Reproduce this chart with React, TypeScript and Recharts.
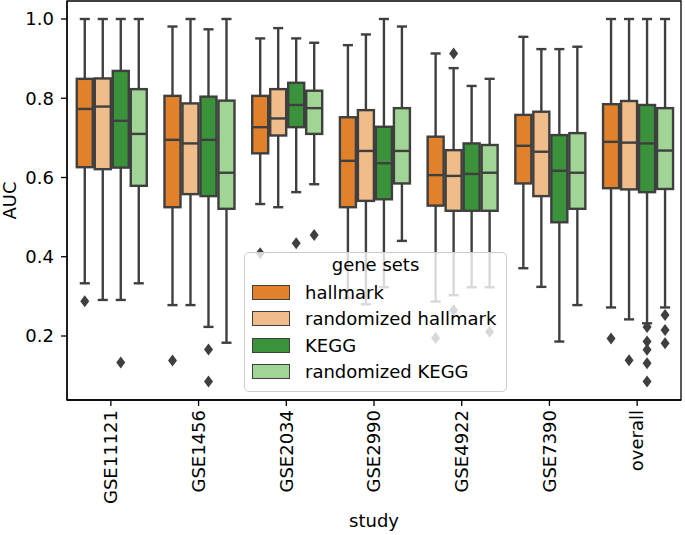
import React from 'react'
import {
  ComposedChart,
  Bar,
  XAxis,
  YAxis,
  Legend,
  ReferenceArea,
} from 'recharts'

// study names on the x axis
const studies = ['GSE11121', 'GSE1456', 'GSE2034', 'GSE2990', 'GSE4922', 'GSE7390', 'overall']

// box stats per study: [whisker low, q1, median, q3, whisker high]
const hallmarkBox = [
  [0.333, 0.626, 0.773, 0.849, 1.0],
  [0.278, 0.525, 0.695, 0.806, 0.981],
  [0.533, 0.661, 0.727, 0.806, 0.951],
  [0.295, 0.525, 0.642, 0.752, 0.934],
  [0.287, 0.529, 0.606, 0.703, 0.913],
  [0.371, 0.585, 0.68, 0.758, 0.955],
  [0.272, 0.573, 0.69, 0.785, 1.0],
]
const randHallmarkBox = [
  [0.291, 0.621, 0.779, 0.85, 1.0],
  [0.278, 0.558, 0.686, 0.787, 1.0],
  [0.525, 0.706, 0.749, 0.823, 0.977],
  [0.28, 0.541, 0.667, 0.77, 0.961],
  [0.303, 0.516, 0.604, 0.669, 0.876],
  [0.324, 0.553, 0.665, 0.766, 0.924],
  [0.242, 0.57, 0.688, 0.793, 1.0],
]
const keggBox = [
  [0.291, 0.625, 0.743, 0.869, 1.0],
  [0.223, 0.553, 0.695, 0.804, 0.974],
  [0.563, 0.727, 0.783, 0.839, 0.951],
  [0.323, 0.545, 0.636, 0.728, 1.0],
  [0.323, 0.516, 0.609, 0.686, 0.831],
  [0.186, 0.487, 0.617, 0.707, 0.924],
  [0.232, 0.563, 0.686, 0.783, 1.0],
]
const randKeggBox = [
  [0.333, 0.579, 0.71, 0.823, 1.0],
  [0.183, 0.521, 0.612, 0.794, 1.0],
  [0.583, 0.71, 0.775, 0.819, 0.94],
  [0.44, 0.585, 0.667, 0.775, 0.981],
  [0.323, 0.516, 0.612, 0.682, 0.849],
  [0.278, 0.521, 0.612, 0.712, 0.93],
  [0.272, 0.571, 0.668, 0.775, 1.0],
]

// outliers (fliers) per study
const hallmarkOut = [[0.288], [0.138], [0.409], [], [0.195], [], [0.194]]
const randHallmarkOut = [[], [], [], [], [0.913, 0.265], [], [0.139]]
const keggOut = [[0.133], [0.166, 0.085], [0.434], [], [], [], [0.223, 0.186, 0.165, 0.131, 0.085]]
const randKeggOut = [[], [], [0.455], [], [0.211], [], [0.253, 0.215, 0.182]]

const yTicks = [0.2, 0.4, 0.6, 0.8, 1.0]
const yDomain = [0.0385, 1.0454]

const series = [
  { key: 'hallmark', name: 'hallmark', color: '#E1812C', box: hallmarkBox, out: hallmarkOut },
  { key: 'randHallmark', name: 'randomized hallmark', color: '#F0BC89', box: randHallmarkBox, out: randHallmarkOut },
  { key: 'kegg', name: 'KEGG', color: '#3A923A', box: keggBox, out: keggOut },
  { key: 'randKegg', name: 'randomized KEGG', color: '#A0D595', box: randKeggBox, out: randKeggOut },
]

const data = studies.map((study, i) => {
  const row: any = { study }
  series.forEach(s => {
    row[s.key] = { stats: s.box[i], out: s.out[i] }
  })
  return row
})

const EDGE = '#3f3f3f'
const FONT = '"DejaVu Sans", sans-serif'
const FS = 18

// draws one box; bar gives pixel range of whisker low..high, rest is mapped linearly
const makeBoxShape = (key: string, color: string) => (props: any) => {
  const { x, y, width, height, payload } = props
  const entry = payload && payload[key]
  if (!entry) return null
  const [lo, q1, med, q3, hi] = entry.stats
  const top = Math.min(y, y + height)
  const h = Math.abs(height)
  const py = (v: number) => top + ((hi - v) / (hi - lo)) * h
  const cx = x + width / 2
  const bx = x + 1
  const bw = width - 2
  const cap = width * 0.28
  return (
    <g>
      <line x1={cx} x2={cx} y1={py(hi)} y2={py(q3)} stroke={EDGE} strokeWidth={2.4} />
      <line x1={cx} x2={cx} y1={py(q1)} y2={py(lo)} stroke={EDGE} strokeWidth={2.4} />
      <line x1={cx - cap} x2={cx + cap} y1={py(hi)} y2={py(hi)} stroke={EDGE} strokeWidth={2.4} />
      <line x1={cx - cap} x2={cx + cap} y1={py(lo)} y2={py(lo)} stroke={EDGE} strokeWidth={2.4} />
      <rect x={bx} y={py(q3)} width={bw} height={py(q1) - py(q3)} fill={color} stroke={EDGE} strokeWidth={2.4} />
      <line x1={bx} x2={bx + bw} y1={py(med)} y2={py(med)} stroke={EDGE} strokeWidth={2.4} />
      {entry.out.map((v: number, i: number) => {
        const oy = py(v)
        return (
          <polygon
            key={i}
            points={`${cx},${oy - 6} ${cx + 4.5},${oy} ${cx},${oy + 6} ${cx - 4.5},${oy}`}
            fill={EDGE}
          />
        )
      })}
    </g>
  )
}

const StudyTick = ({ x, y, payload }: any) => (
  <text
    x={x}
    y={y}
    dy="0.35em"
    transform={`rotate(-90, ${x}, ${y})`}
    textAnchor="end"
    fill="#000"
    fontSize={FS}
    fontFamily={FONT}
  >
    {payload.value}
  </text>
)

const AucLabel = ({ viewBox }: any) => {
  const cx = 9
  const cy = viewBox && viewBox.height ? viewBox.y + viewBox.height / 2 : 200
  return (
    <text
      x={cx}
      y={cy}
      transform={`rotate(-90, ${cx}, ${cy})`}
      textAnchor="middle"
      dominantBaseline="central"
      fill="#000"
      fontSize={FS}
      fontFamily={FONT}
    >
      AUC
    </text>
  )
}

const GeneSetLegend = () => (
  <div
    style={{
      boxSizing: 'border-box',
      width: 263,
      height: 140,
      background: 'rgba(255,255,255,0.8)',
      border: '1px solid #cccccc',
      borderRadius: 5,
      fontFamily: FONT,
      fontSize: FS,
      color: '#000',
    }}
  >
    <div style={{ textAlign: 'center', height: 26, lineHeight: '24px' }}>gene sets</div>
    {series.map(s => (
      <div key={s.key} style={{ display: 'flex', alignItems: 'center', height: 26.5 }}>
        <span
          style={{
            display: 'inline-block',
            boxSizing: 'border-box',
            width: 38,
            height: 15,
            marginLeft: 7,
            marginRight: 15,
            background: s.color,
            border: `1.5px solid ${EDGE}`,
          }}
        />
        <span>{s.name}</span>
      </div>
    ))}
  </div>
)

export default function App() {
  return (
    <div style={{ position: 'absolute', left: 0, top: 0, background: '#fff' }}>
      <ComposedChart
        width={685}
        height={535}
        data={data}
        margin={{ top: 1, right: 4, left: 0, bottom: 0 }}
        barCategoryGap="10%"
        barGap={0}
        style={{ fontFamily: FONT }}
      >
        <XAxis
          xAxisId="study"
          dataKey="study"
          height={135}
          interval={0}
          axisLine={{ stroke: '#000', strokeWidth: 1.3 }}
          tickLine={{ stroke: '#000', strokeWidth: 1.3 }}
          tickSize={6}
          tickMargin={4}
          tick={<StudyTick />}
          label={{ value: 'study', position: 'insideBottom', offset: 8, fill: '#000', fontSize: FS, fontFamily: FONT }}
        />
        <YAxis
          yAxisId="auc"
          width={67}
          domain={yDomain}
          ticks={yTicks}
          allowDataOverflow
          axisLine={{ stroke: '#000', strokeWidth: 1.3 }}
          tickLine={{ stroke: '#000', strokeWidth: 1.3 }}
          tickSize={6}
          tickMargin={7}
          tickFormatter={(v: number) => v.toFixed(1)}
          tick={{ fill: '#000', fontSize: FS, fontFamily: FONT }}
          label={<AucLabel />}
        />
        {/* frame around the plot area (top and right spines) */}
        <ReferenceArea
          xAxisId="study"
          yAxisId="auc"
          x1={studies[0]}
          x2={studies[studies.length - 1]}
          y1={yDomain[0]}
          y2={yDomain[1]}
          fill="none"
          fillOpacity={0}
          stroke="#000"
          strokeWidth={1.3}
          ifOverflow="visible"
        />
        {series.map(s => (
          <Bar
            key={s.key}
            xAxisId="study"
            yAxisId="auc"
            name={s.name}
            dataKey={(d: any) => [d[s.key].stats[0], d[s.key].stats[4]]}
            fill={s.color}
            shape={makeBoxShape(s.key, s.color)}
            isAnimationActive={false}
          />
        ))}
        <Legend
          layout="vertical"
          align="center"
          verticalAlign="middle"
          wrapperStyle={{ left: 244, top: 252, width: 263, height: 140 }}
          content={<GeneSetLegend />}
        />
      </ComposedChart>
    </div>
  )
}
